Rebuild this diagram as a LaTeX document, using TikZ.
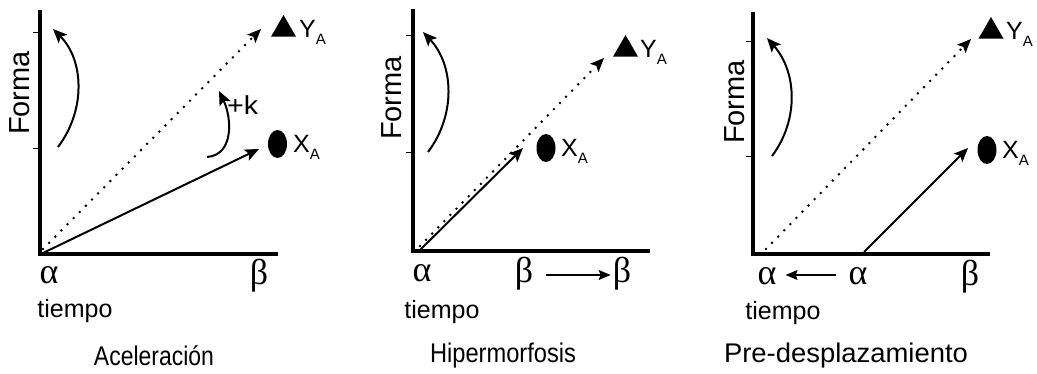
\documentclass[tikz,border=0pt]{standalone}
\usepackage{fontspec}
\setmainfont{Liberation Sans}
\newfontfamily\greekfont{Liberation Serif}
\usetikzlibrary{arrows.meta,shapes.geometric}
\tikzset{
  axisline/.style={line width=4pt,line join=miter},
  tickmark/.style={line width=1pt},
  arr/.style={line width=2pt,-{Stealth[length=14pt,width=12pt,inset=3pt]}},
  dotarr/.style={line width=2.8pt,line cap=round,dash pattern=on 0pt off 8.7pt,
     -{Stealth[length=14pt,width=12pt,inset=3pt,line width=0pt]}},
  thinarr/.style={line width=1.2pt,-{Stealth[length=12pt,width=10pt,inset=2pt]}},
  tri/.style={regular polygon,regular polygon sides=3,fill=black,minimum size=29pt,inner sep=0pt},
  dot/.style={ellipse,fill=black,minimum width=19pt,minimum height=28pt,inner sep=0pt},
  lab/.style={inner sep=0pt,anchor=base west,font=\fontsize{25}{25}\selectfont},
  gr/.style={inner sep=0pt,anchor=base,font=\greekfont\fontsize{36}{36}\selectfont},
  txt/.style={inner sep=0pt,font=\fontsize{27}{27}\selectfont},
  tmp/.style={inner sep=0pt,font=\fontsize{25}{25}\selectfont},
  forma/.style={inner sep=0pt,rotate=90,font=\fontsize{29}{29}\selectfont}
}
\newcommand{\subA}{\raisebox{-6.5pt}{\fontsize{15}{15}\selectfont A}}
\newcommand{\fitw}[2]{\resizebox{#1}{\height}{#2}}
\begin{document}
\begin{tikzpicture}[x=1pt,y=-1pt]
\useasboundingbox (0,0) rectangle (1037,374);
% ---------- Panel 1: Aceleracion ----------
\coordinate (t1) at (40,10);
\coordinate (o1) at (40,254);
\coordinate (e1) at (278,254);
\draw[axisline] (t1) -- (o1) -- (e1);
\draw[tickmark] (33,33) -- (40,33) (33,149) -- (40,149);
\node[forma] (f1) at (20,93) {Forma};
\node[tri] (y1) at (283.5,29.5) {};
\node[lab] (yl1) at (299,38) {Y\subA};
\node[dot] (x1) at (277.5,144) {};
\node[lab] (xl1) at (293,153) {X\subA};
\coordinate (ds1) at (43,249);
\coordinate (de1) at (261,29);
\draw[dotarr] (ds1) -- (de1);
\coordinate (ss1) at (43,253);
\coordinate (se1) at (259,149);
\draw[arr] (ss1) -- (se1);
\coordinate (cs1) at (58,147);
\coordinate (ce1) at (53,29);
\draw[arr] (cs1) .. controls (86,110) and (84,60) .. (ce1);
\coordinate (ks1) at (207,157);
\coordinate (ke1) at (219,91);
\draw[arr] (ks1) .. controls (234,155) and (232,118) .. (ke1);
\node[inner sep=0pt,anchor=base west,font=\fontsize{26}{26}\selectfont] (k1) at (227,115) {\fitw{31pt}{+k}};
\node[gr] (a1) at (49,284) {α};
\node[gr] (b1) at (259,285) {β};
\node[tmp] (ti1) at (75,311) {tiempo};
\node[txt] (n1) at (154,356) {\fitw{120pt}{Aceleración}};
% ---------- Panel 2: Hipermorfosis ----------
\coordinate (t2) at (413,9);
\coordinate (o2) at (413,251);
\coordinate (e2) at (650,251);
\draw[axisline] (t2) -- (o2) -- (e2);
\draw[tickmark] (406,36) -- (413,36) (406,153) -- (413,153);
\node[forma] (f2) at (392,98) {Forma};
\node[tri] (y2) at (625.5,49.5) {};
\node[lab] (yl2) at (640,58) {Y\subA};
\node[dot] (x2) at (546,148) {};
\node[lab] (xl2) at (561,157) {X\subA};
\coordinate (ds2) at (420,246);
\coordinate (de2) at (604,58);
\draw[dotarr] (ds2) -- (de2);
\coordinate (ss2) at (420,250);
\coordinate (se2) at (523,148);
\draw[arr] (ss2) -- (se2);
\coordinate (cs2) at (428,152);
\coordinate (ce2) at (423,32);
\draw[arr] (cs2) .. controls (456,115) and (454,65) .. (ce2);
\node[gr] (a2) at (422,282) {α};
\node[gr] (b2) at (524,283) {β};
\node[gr] (b2b) at (622,283) {β};
\draw[thinarr] ([xshift=13pt,yshift=8pt]b2.base east) -- ([xshift=-2pt,yshift=8pt]b2b.base west);
\node[tmp] (ti2) at (442,312) {tiempo};
\node[txt] (n2) at (503,356) {\fitw{146pt}{Hipermorfosis}};
% ---------- Panel 3: Pre-desplazamiento ----------
\coordinate (t3) at (753,12);
\coordinate (o3) at (753,254);
\coordinate (e3) at (990,254);
\draw[axisline] (t3) -- (o3) -- (e3);
\draw[tickmark] (746,42) -- (753,42) (746,157) -- (753,157);
\node[forma] (f3) at (735,102) {Forma};
\node[tri] (y3) at (991,31.5) {};
\node[lab] (yl3) at (1006,40) {Y\subA};
\node[dot] (x3) at (987,150) {};
\node[lab] (xl3) at (1002,159) {X\subA};
\coordinate (ds3) at (766,249);
\coordinate (de3) at (971,39);
\draw[dotarr] (ds3) -- (de3);
\coordinate (ss3) at (864,252);
\coordinate (se3) at (968,148);
\draw[arr] (ss3) -- (se3);
\coordinate (cs3) at (772,156);
\coordinate (ce3) at (767,38);
\draw[arr] (cs3) .. controls (799,120) and (797,72) .. (ce3);
\node[gr] (a3) at (767,285) {α};
\node[gr] (a3b) at (858,285) {α};
\node[gr] (b3) at (970,286) {β};
\draw[thinarr] ([xshift=-12pt,yshift=10pt]a3b.base west) -- ([xshift=9pt,yshift=10pt]a3.base east);
\node[tmp] (ti3) at (783,313) {tiempo};
\node[txt] (n3) at (846,356) {\fitw{244pt}{Pre-desplazamiento}};
\end{tikzpicture}
\end{document}
